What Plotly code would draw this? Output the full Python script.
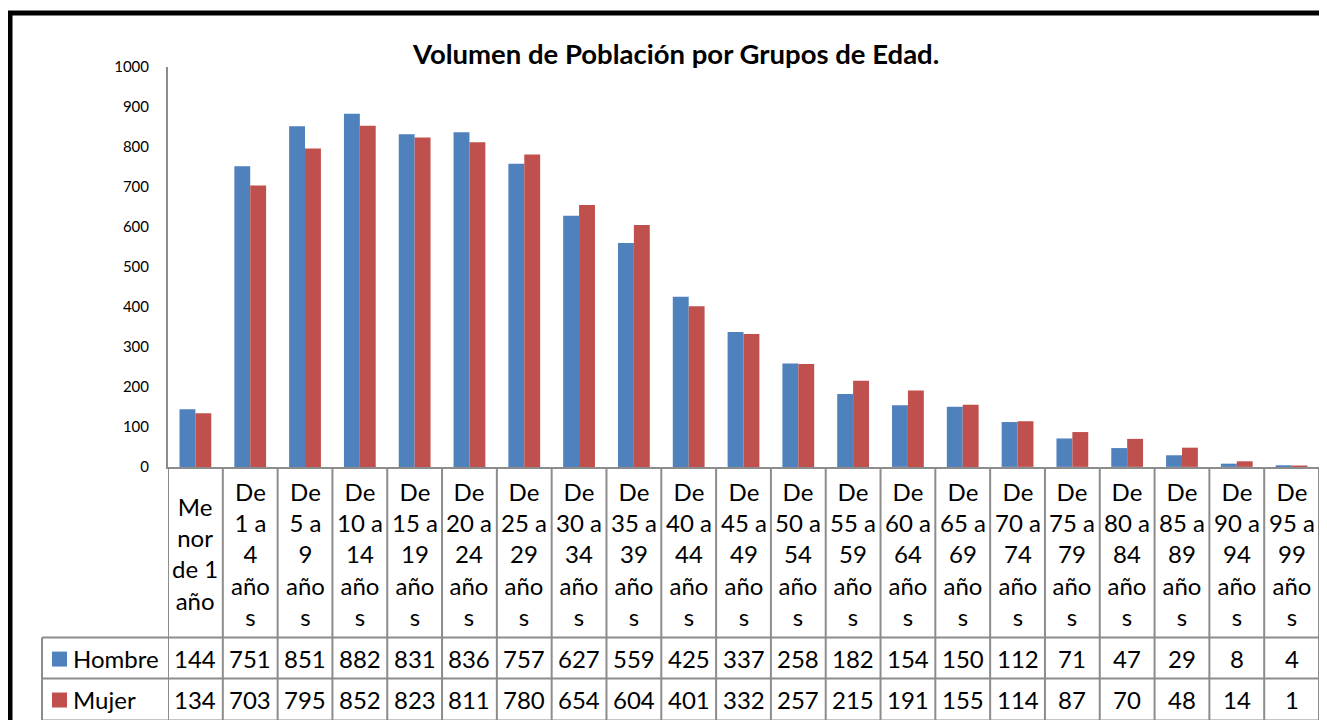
import plotly.graph_objects as go

# data
categories = ["Menor de 1 año", "De 1 a 4 años", "De 5 a 9 años", "De 10 a 14 años",
              "De 15 a 19 años", "De 20 a 24 años", "De 25 a 29 años", "De 30 a 34 años",
              "De 35 a 39 años", "De 40 a 44 años", "De 45 a 49 años", "De 50 a 54 años",
              "De 55 a 59 años", "De 60 a 64 años", "De 65 a 69 años", "De 70 a 74 años",
              "De 75 a 79 años", "De 80 a 84 años", "De 85 a 89 años", "De 90 a 94 años",
              "De 95 a 99 años"]
header_labels = ["Me<br>nor<br>de 1<br>año"] + [
    "De<br>%s a<br>%s<br>año<br>s" % (a, b)
    for a, b in [(1, 4), (5, 9), (10, 14), (15, 19), (20, 24), (25, 29), (30, 34), (35, 39),
                 (40, 44), (45, 49), (50, 54), (55, 59), (60, 64), (65, 69), (70, 74),
                 (75, 79), (80, 84), (85, 89), (90, 94), (95, 99)]
]
hombre = [144, 751, 851, 882, 831, 836, 757, 627, 559, 425, 337, 258, 182, 154, 150, 112, 71, 47, 29, 8, 4]
mujer = [134, 703, 795, 852, 823, 811, 780, 654, 604, 401, 332, 257, 215, 191, 155, 114, 87, 70, 48, 14, 1]
series_names = ["Hombre", "Mujer"]
series_colors = ["#4F81BD", "#C0504D"]
y_ticks = [0, 100, 200, 300, 400, 500, 600, 700, 800, 900, 1000]
title_text = "Volumen de Población por Grupos de Edad."

# page body keeps its default 8px margin, so the figure is drawn 16px smaller
PAD = 8
W, H = 1327 - 2 * PAD, 728 - 2 * PAD
FONT = "Lato"
GRID = "#8c8c8c"
# measured on screen: the paper spans y = 17.4 .. 712.5 of the window
PAPER_TOP, PAPER_H = 17.4, 695.1


def px(x):
    return (x - PAD) / W


def py(y):
    return 1 - (y - PAPER_TOP) / PAPER_H


RIGHT = min(1.0, px(1325))

fig = go.Figure()
for name, vals, col in zip(series_names, [hombre, mujer], series_colors):
    fig.add_trace(go.Bar(x=categories, y=vals, name=name, marker=dict(color=col, line=dict(width=0))))

shapes = []
annotations = []

# title as an annotation
annotations.append(dict(xref="paper", yref="paper", x=px(675), y=py(53), text="<b>%s</b>" % title_text,
                        showarrow=False, xanchor="center", yanchor="middle",
                        font=dict(family=FONT, size=27.5, color="black")))

# table: header row with category labels
for cat, lab in zip(categories, header_labels):
    annotations.append(dict(xref="x", yref="paper", x=cat, y=py(554), text=lab, showarrow=False,
                            xanchor="center", yanchor="middle", font=dict(family=FONT, size=24, color="black")))

# table: value rows with legend keys
row_y = [659, 700]
for name, vals, col, ry in zip(series_names, [hombre, mujer], series_colors, row_y):
    for cat, v in zip(categories, vals):
        annotations.append(dict(xref="x", yref="paper", x=cat, y=py(ry), text=str(v), showarrow=False,
                                xanchor="center", yanchor="middle", font=dict(family=FONT, size=24, color="black")))
    shapes.append(dict(type="rect", xref="paper", yref="paper", x0=px(52), x1=px(67),
                       y0=py(ry + 8), y1=py(ry - 7), fillcolor=col, line=dict(width=0)))
    annotations.append(dict(xref="paper", yref="paper", x=px(71), y=py(ry), text=name, showarrow=False,
                            xanchor="left", yanchor="middle", font=dict(family=FONT, size=24, color="black")))

# table grid
for i in range(len(categories) + 1):
    shapes.append(dict(type="line", xref="x", yref="paper", x0=i - 0.5, x1=i - 0.5,
                       y0=py(468), y1=py(721), line=dict(color=GRID, width=2)))
for yy in [638, 679, 721]:
    shapes.append(dict(type="line", xref="paper", yref="paper", x0=px(42), x1=RIGHT,
                       y0=py(yy), y1=py(yy), line=dict(color=GRID, width=2)))
shapes.append(dict(type="line", xref="paper", yref="paper", x0=px(42), x1=px(42),
                   y0=py(638), y1=py(721), line=dict(color=GRID, width=2)))

# outer frame
shapes.append(dict(type="rect", xref="paper", yref="paper", x0=px(10), x1=1.05, y0=-0.05, y1=py(12.5),
                   line=dict(color="black", width=5)))

fig.update_layout(
    width=W, height=H, autosize=False,
    margin=dict(l=0, r=0, t=0, b=0, pad=0),
    paper_bgcolor="white", plot_bgcolor="white",
    barmode="group", bargap=0.42, bargroupgap=0,
    showlegend=False,
    xaxis=dict(domain=[px(168), RIGHT], range=[-0.5, len(categories) - 0.5], showticklabels=False,
               showline=True, linecolor=GRID, linewidth=2, showgrid=False, zeroline=False, ticks=""),
    yaxis=dict(domain=[py(467), py(66)], range=[0, 1000], tickvals=y_ticks, showgrid=False, zeroline=False,
               showline=True, linecolor=GRID, linewidth=2, ticks="", ticklabelstandoff=14,
               tickfont=dict(family=FONT, size=15, color="black")),
    shapes=shapes, annotations=annotations,
)

fig.write_html("out.html")
